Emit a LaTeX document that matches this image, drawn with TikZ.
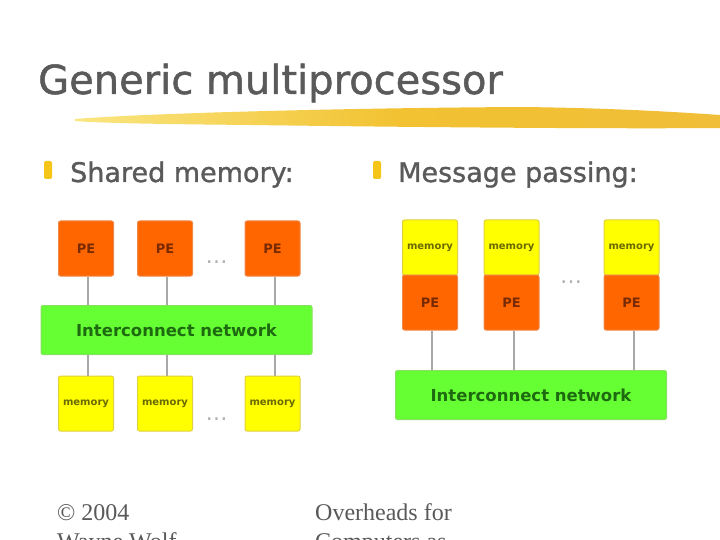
\documentclass[tikz,border=0pt]{standalone}
\usepackage{fontspec}
\setmainfont{DejaVu Sans}
\newfontfamily\footfont{Liberation Serif}
\newfontfamily\headfont[FakeBold=1.2]{DejaVu Sans}
\definecolor{pefill}{HTML}{FF6600}
\definecolor{peedge}{HTML}{F08848}
\definecolor{petext}{HTML}{7A2A00}
\definecolor{memfill}{HTML}{FFFF00}
\definecolor{memedge}{HTML}{E0D040}
\definecolor{memtext}{HTML}{6A6A00}
\definecolor{netfill}{HTML}{66FF33}
\definecolor{netedge}{HTML}{88E060}
\definecolor{nettext}{HTML}{1E6A10}
\definecolor{linkgray}{HTML}{A8A8A8}
\definecolor{titlegray}{HTML}{5A5A5A}
\definecolor{bulletc}{HTML}{F5C518}
\definecolor{swlight}{HTML}{FAE680}
\definecolor{swmid}{HTML}{F2C232}
\definecolor{swdark}{HTML}{F0BE38}
\tikzset{
  pebox/.style={draw=peedge, fill=pefill, line width=1pt, rounded corners=2pt,
    minimum width=55pt, minimum height=55pt, inner sep=0pt, text=petext,
    font=\bfseries\fontsize{13}{15}\selectfont},
  membox/.style={draw=memedge, fill=memfill, line width=1pt, rounded corners=2pt,
    minimum width=55pt, minimum height=55pt, inner sep=0pt, text=memtext,
    font=\bfseries\fontsize{10}{12}\selectfont},
  netbox/.style={draw=netedge, fill=netfill, line width=1pt, rounded corners=2pt,
    inner sep=0pt, text=nettext, font=\bfseries\fontsize{16.5}{19}\selectfont},
  link/.style={draw=linkgray, line width=2pt},
  dotsnode/.style={text=black!30, font=\fontsize{22}{24}\selectfont, inner sep=0pt},
  bullettext/.style={anchor=base west, text=titlegray, inner sep=0pt,
    font=\headfont\fontsize{27}{32}\selectfont},
  foottext/.style={anchor=base west, text=black!65, inner sep=0pt,
    font=\footfont\fontsize{24}{28}\selectfont}
}
\begin{document}
\begin{tikzpicture}[x=1pt,y=-1pt]
\clip (0,0) rectangle (720,540);
\fill[white] (0,0) rectangle (720,540);

% title and swoosh
\node[anchor=base west, inner sep=0pt, text=titlegray, font=\headfont\fontsize{40}{46}\selectfont] (title) at (38,94) {Generic multiprocessor};
\shade[left color=swlight, right color=swdark, middle color=swmid]
  (75,119) .. controls (150,113) and (350,108) .. (520,107)
  .. controls (620,108) and (690,113) .. (720,115)
  -- (720,128) .. controls (600,129) and (400,127) .. (250,125)
  .. controls (150,124) and (100,123) .. (75,121) -- cycle;

% bullets
\fill[bulletc, rounded corners=2pt] (44,161) rectangle (52,179);
\node[bullettext] (bl) at (70,182) {Shared memory:};
\fill[bulletc, rounded corners=2pt] (373,161) rectangle (381,179);
\node[bullettext] (br) at (398,182) {Message passing:};

% left: shared memory
\node[pebox] (l1) at (86,248.5) {PE};
\node[pebox] (l2) at (165,248.5) {PE};
\node[pebox] (l3) at (272.5,248.5) {PE};
\node[dotsnode] (ld1) at (216.5,262) {\dots};
\node[netbox, minimum width=271pt, minimum height=49pt] (ln) at (176.5,330) {Interconnect network};
\node[membox] (m1) at (86,403.5) {memory};
\node[membox] (m2) at (165,403.5) {memory};
\node[membox] (m3) at (272.5,403.5) {memory};
\node[dotsnode] (ld2) at (216.5,419) {\dots};
\foreach \i in {1,2,3}{
  \draw[link] ([xshift=2pt]l\i.south) -- ([xshift=2pt]l\i.south |- ln.north);
  \draw[link] ([xshift=2pt]ln.south -| m\i.north) -- ([xshift=2pt]m\i.north);
}

% right: message passing
\node[membox] (rm1) at (430,247.5) {memory};
\node[pebox] (rp1) at (430,302.5) {PE};
\node[membox] (rm2) at (511.5,247.5) {memory};
\node[pebox] (rp2) at (511.5,302.5) {PE};
\node[membox] (rm3) at (631.5,247.5) {memory};
\node[pebox] (rp3) at (631.5,302.5) {PE};
\node[dotsnode] (rd) at (571,282) {\dots};
\node[netbox, minimum width=271pt, minimum height=49pt] (rn) at (531,395) {Interconnect network};
\foreach \i in {1,2,3}{
  \draw[link] ([xshift=2pt]rp\i.south) -- ([xshift=2pt]rp\i.south |- rn.north);
}

% footer
\node[foottext] (f1) at (57,520) {\char"00A9\ 2004};
\node[foottext] (f2) at (57,549) {Wayne Wolf};
\node[foottext] (f3) at (315,520) {Overheads for};
\node[foottext] (f4) at (315,549) {Computers as};
\end{tikzpicture}
\end{document}
